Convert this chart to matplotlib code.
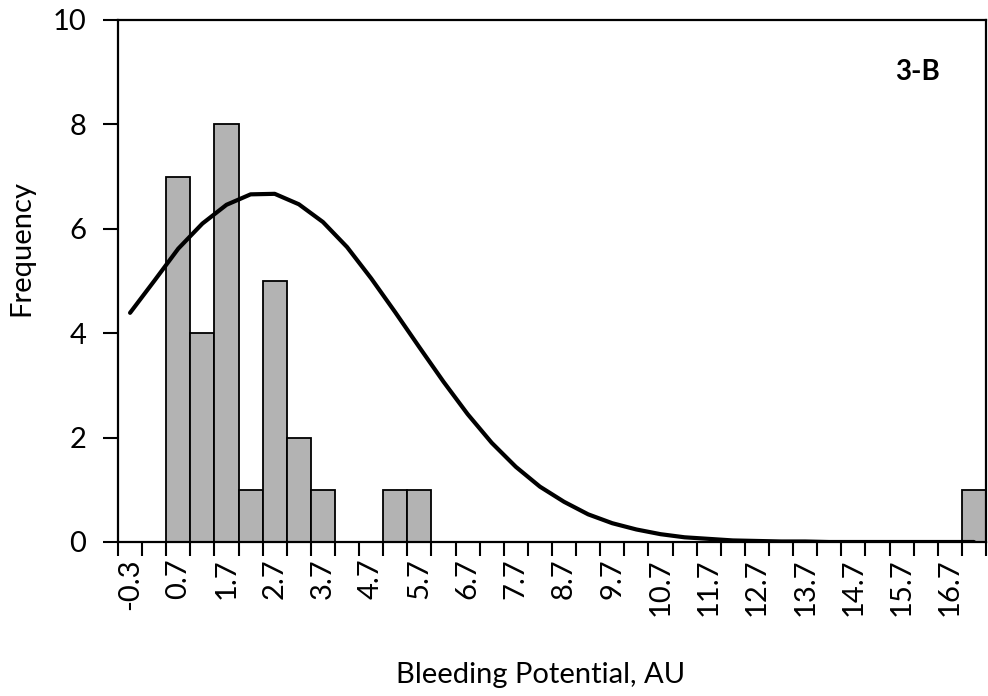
import matplotlib
matplotlib.use("Agg")
from matplotlib import pyplot as plt

# histogram bins (Excel category labels), counts, and the fitted normal curve
bins = ["-0.3", "0.2", "0.7", "1.2", "1.7", "2.2", "2.7", "3.2", "3.7", "4.2",
        "4.7", "5.2", "5.7", "6.2", "6.7", "7.2", "7.7", "8.2", "8.7", "9.2",
        "9.7", "10.2", "10.7", "11.2", "11.7", "12.2", "12.7", "13.2", "13.7", "14.2",
        "14.7", "15.2", "15.7", "16.2", "16.7", "17.2"]
counts = [0, 0, 7, 4, 8, 1, 5, 2, 1, 0,
          0, 1, 1, 0, 0, 0, 0, 0, 0, 0,
          0, 0, 0, 0, 0, 0, 0, 0, 0, 0,
          0, 0, 0, 0, 0, 1]
normal_fit = [4.39, 5.00, 5.62, 6.10, 6.46, 6.66, 6.67, 6.47, 6.13, 5.65,
              5.05, 4.40, 3.73, 3.07, 2.45, 1.90, 1.44, 1.06, 0.77, 0.53,
              0.36, 0.24, 0.15, 0.09, 0.06, 0.03, 0.02, 0.01, 0.01, 0.0,
              0.0, 0.0, 0.0, 0.0, 0.0, 0.0]
yticks = [0, 2, 4, 6, 8, 10]

plt.rcParams['font.family'] = ['Lato', 'DejaVu Sans']

fig = plt.figure(figsize=(9.88, 6.96), dpi=100)
ax = fig.add_axes([118/988, 1 - 542/696, (986 - 118)/988, (542 - 20)/696])

pos = [i + 0.5 for i in range(len(bins))]
ax.bar(pos, counts, width=1.0, color='#b3b3b3', edgecolor='black', linewidth=1.3, zorder=2)
ax.plot(pos, normal_fit, color='black', linewidth=3.0, solid_capstyle='round', zorder=3)

ax.set_xlim(0, len(bins))
ax.set_ylim(0, 10)

# tick marks sit between categories, labels on every other category
ax.set_xticks(range(len(bins) + 1))
ax.set_xticklabels([])
ax.set_xticks(pos[::2], minor=True)
ax.set_xticklabels(bins[::2], minor=True, rotation=90, fontsize=21)
ax.tick_params(axis='x', which='major', length=10, width=1.5, direction='out')
ax.tick_params(axis='x', which='minor', length=0, pad=12)

ax.set_yticks(yticks)
ax.set_yticklabels([str(v) for v in yticks], fontsize=21)
ax.tick_params(axis='y', length=11, width=1.5, pad=12)

for s in ax.spines.values():
    s.set_linewidth(1.6)
    s.set_color('black')

ax.set_ylabel("Frequency", fontsize=21)
ax.yaxis.set_label_coords((34 - 118)/868, (542 - 248)/522)
ax.set_xlabel("Bleeding Potential, AU", fontsize=21)
ax.xaxis.set_label_coords((541 - 118)/868, (542 - 662)/522)

ax.text(918/988, 1 - 72/696, "3-B", transform=fig.transFigure, fontsize=20,
        fontweight='bold', ha='center', va='center')

fig.savefig("out.png", dpi=100)
